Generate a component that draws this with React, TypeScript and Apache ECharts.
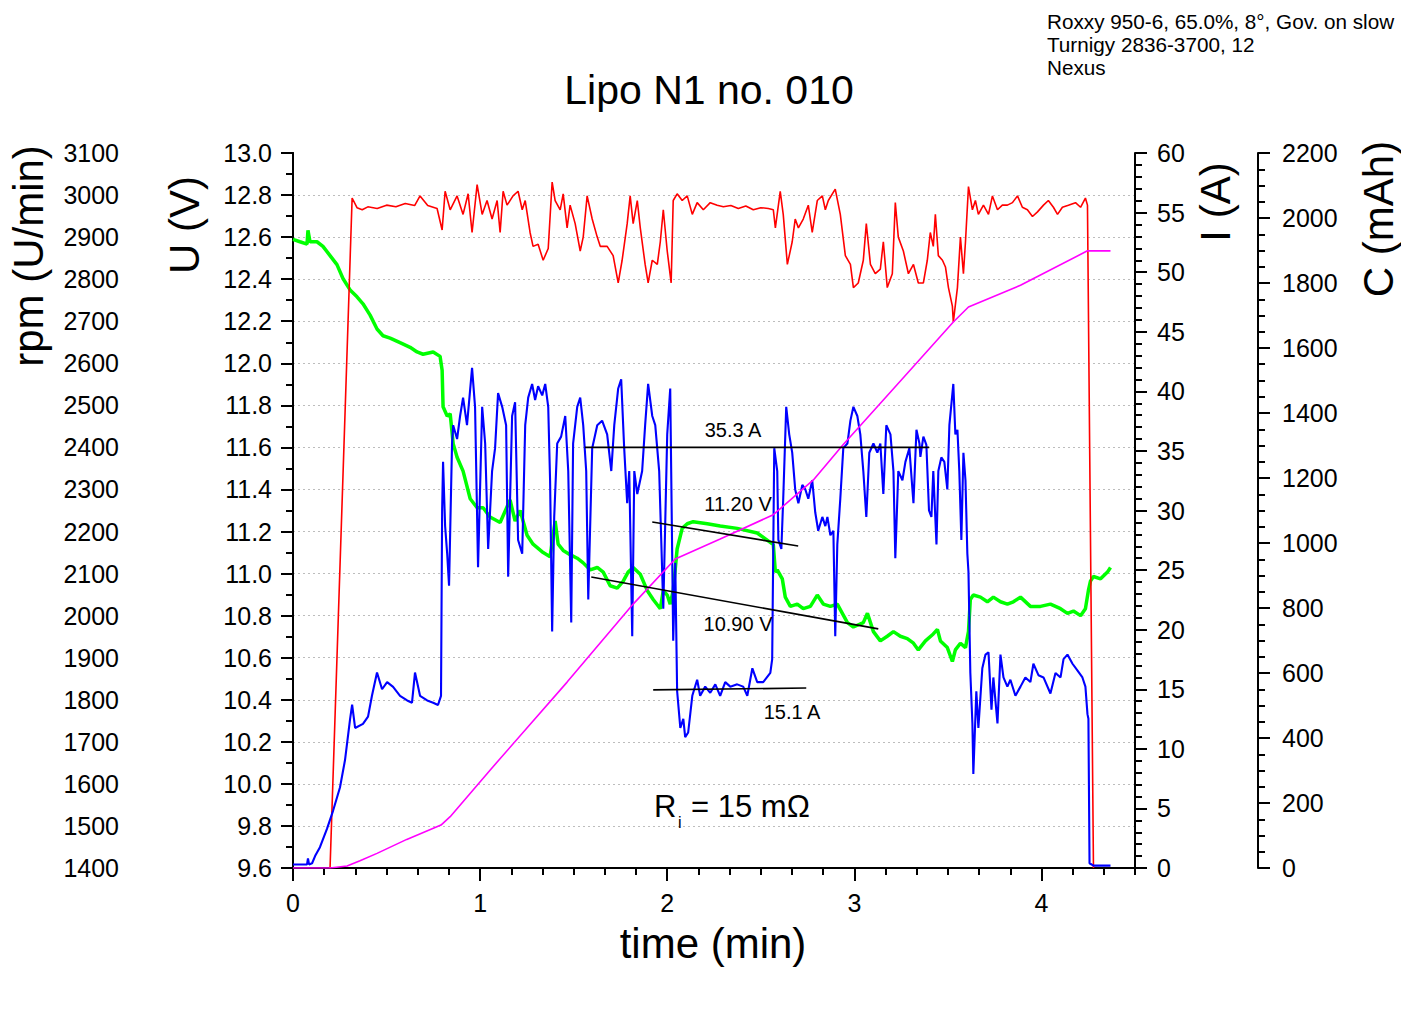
import React, { useEffect, useRef } from "react";
import * as echarts from "echarts";

// ---------- data ----------
const timeMajorTicks = [0, 1, 2, 3, 4];
const timeMinorTicks = Array.from({ length: 28 }, (_, i) => i / 6);

const titleText = "Lipo N1 no. 010";
const infoLines = ["Roxxy 950-6, 65.0%, 8°, Gov. on slow", "Turnigy 2836-3700, 12", "Nexus"];

// rpm (U/min) vs time (min)
const rpmData: [number, number][] = [
  [0.198, 1400], [0.316, 2993], [0.342, 2970], [0.37, 2965], [0.40, 2972], [0.45, 2968], [0.50, 2976],
  [0.55, 2972], [0.60, 2980], [0.65, 2975], [0.679, 2998], [0.72, 2975], [0.77, 2968], [0.797, 2917],
  [0.813, 3009], [0.840, 2965], [0.877, 2998], [0.909, 2954], [0.936, 3003], [0.957, 2911], [0.984, 3025],
  [1.011, 2954], [1.037, 2987], [1.064, 2943], [1.091, 2987], [1.107, 2911], [1.123, 3009], [1.144, 2976],
  [1.176, 2998], [1.203, 3009], [1.225, 2965], [1.241, 2987], [1.267, 2911], [1.283, 2878], [1.310, 2883],
  [1.337, 2845], [1.364, 2873], [1.385, 3031], [1.401, 2987], [1.428, 2965], [1.444, 3003], [1.465, 2922],
  [1.481, 2976], [1.508, 2932], [1.535, 2867], [1.551, 2900], [1.572, 2998], [1.599, 2943], [1.626, 2900],
  [1.642, 2878], [1.679, 2878], [1.711, 2856], [1.738, 2791], [1.759, 2845], [1.786, 2932], [1.802, 2998],
  [1.818, 2932], [1.840, 2987], [1.856, 2922], [1.882, 2835], [1.898, 2791], [1.920, 2845], [1.947, 2835],
  [1.963, 2889], [1.979, 2965], [2.000, 2867], [2.021, 2791], [2.032, 2987], [2.053, 3003], [2.080, 2987],
  [2.107, 2998], [2.134, 2954], [2.160, 2982], [2.193, 2965], [2.230, 2982], [2.267, 2976], [2.30, 2972],
  [2.34, 2975], [2.38, 2968], [2.42, 2974], [2.46, 2965], [2.50, 2970], [2.54, 2968], [2.567, 2965],
  [2.578, 2922], [2.604, 3009], [2.620, 2954], [2.642, 2835], [2.668, 2889], [2.684, 2943], [2.701, 2922],
  [2.727, 2943], [2.754, 2976], [2.775, 2911], [2.802, 2987], [2.829, 2998], [2.845, 2965], [2.861, 2987],
  [2.898, 3014], [2.925, 2954], [2.952, 2856], [2.979, 2835], [2.995, 2780], [3.021, 2791], [3.048, 2845],
  [3.064, 2932], [3.086, 2835], [3.112, 2813], [3.139, 2824], [3.155, 2889], [3.176, 2780], [3.203, 2813],
  [3.219, 2982], [3.235, 2900], [3.262, 2867], [3.289, 2813], [3.316, 2835], [3.342, 2791], [3.369, 2791],
  [3.390, 2845], [3.406, 2911], [3.422, 2878], [3.433, 2954], [3.449, 2856], [3.471, 2845], [3.487, 2829],
  [3.503, 2780], [3.524, 2736], [3.529, 2698], [3.551, 2780], [3.567, 2900], [3.583, 2813], [3.594, 2889],
  [3.610, 3020], [3.631, 2965], [3.647, 2987], [3.663, 2954], [3.690, 2976], [3.717, 2954], [3.738, 2998],
  [3.765, 2965], [3.791, 2976], [3.818, 2976], [3.845, 2982], [3.872, 2998], [3.898, 2971], [3.925, 2965],
  [3.952, 2949], [3.979, 2960], [4.011, 2976], [4.037, 2987], [4.064, 2971], [4.086, 2954], [4.112, 2971],
  [4.144, 2976], [4.182, 2982], [4.209, 2971], [4.235, 2993], [4.246, 2976], [4.278, 1400],
];

// U (V) vs time (min)
const voltData: [number, number][] = [
  [0, 12.589], [0.037, 12.578], [0.075, 12.567], [0.080, 12.632], [0.091, 12.578], [0.128, 12.578],
  [0.160, 12.556], [0.198, 12.512], [0.235, 12.469], [0.267, 12.403], [0.305, 12.349], [0.342, 12.316],
  [0.374, 12.283], [0.412, 12.229], [0.449, 12.163], [0.481, 12.131], [0.519, 12.12], [0.572, 12.098],
  [0.626, 12.076], [0.663, 12.054], [0.695, 12.043], [0.749, 12.054], [0.786, 12.033], [0.797, 11.967],
  [0.802, 11.793], [0.824, 11.749], [0.840, 11.76], [0.856, 11.618], [0.877, 11.553], [0.909, 11.487],
  [0.947, 11.356], [0.984, 11.313], [1.016, 11.313], [1.053, 11.269], [1.107, 11.243], [1.160, 11.35],
  [1.187, 11.25], [1.214, 11.3], [1.251, 11.182], [1.283, 11.14], [1.337, 11.10], [1.374, 11.08],
  [1.401, 11.25], [1.417, 11.14], [1.444, 11.11], [1.481, 11.09], [1.519, 11.073], [1.551, 11.051],
  [1.588, 11.018], [1.626, 11.029], [1.658, 11.007], [1.695, 10.942], [1.733, 10.931], [1.765, 10.964],
  [1.791, 11.007], [1.818, 11.029], [1.856, 10.997], [1.893, 10.92], [1.925, 10.877], [1.963, 10.833],
  [1.979, 10.92], [2.000, 10.898], [2.016, 10.855], [2.032, 10.92], [2.053, 11.117], [2.080, 11.215],
  [2.107, 11.237], [2.139, 11.247], [2.214, 11.237], [2.283, 11.226], [2.374, 11.215], [2.481, 11.193],
  [2.567, 11.138], [2.578, 11.007], [2.588, 11.018], [2.615, 10.975], [2.631, 10.888], [2.658, 10.844],
  [2.695, 10.855], [2.727, 10.833], [2.765, 10.844], [2.802, 10.898], [2.834, 10.855], [2.872, 10.844],
  [2.909, 10.855], [2.936, 10.811], [2.963, 10.767], [2.995, 10.746], [3.048, 10.767], [3.070, 10.811],
  [3.102, 10.724], [3.139, 10.68], [3.176, 10.702], [3.209, 10.724], [3.246, 10.702], [3.283, 10.691],
  [3.316, 10.669], [3.342, 10.637], [3.380, 10.68], [3.422, 10.713], [3.444, 10.735], [3.460, 10.68],
  [3.497, 10.648], [3.524, 10.582], [3.540, 10.637], [3.567, 10.669], [3.594, 10.648], [3.610, 10.724],
  [3.620, 10.877], [3.636, 10.898], [3.674, 10.888], [3.711, 10.866], [3.743, 10.888], [3.781, 10.866],
  [3.818, 10.855], [3.850, 10.866], [3.888, 10.888], [3.941, 10.844], [3.995, 10.844], [4.048, 10.855],
  [4.102, 10.833], [4.139, 10.811], [4.171, 10.822], [4.209, 10.8], [4.235, 10.833], [4.251, 10.92],
  [4.262, 10.964], [4.278, 10.986], [4.316, 10.975], [4.353, 11.007], [4.369, 11.029],
];

// I (A) vs time (min)
const currentData: [number, number][] = [
  [0, 0.3], [0.075, 0.3], [0.080, 0.8], [0.086, 0.3], [0.102, 0.4], [0.118, 1.0], [0.144, 1.75],
  [0.182, 3.3], [0.214, 4.8], [0.251, 6.75], [0.278, 9.06], [0.305, 12.5], [0.316, 13.7], [0.332, 11.75],
  [0.374, 12.1], [0.401, 12.7], [0.422, 14.45], [0.449, 16.4], [0.476, 15.0], [0.503, 15.6], [0.535, 15.2],
  [0.572, 14.45], [0.610, 14.06], [0.636, 13.87], [0.652, 16.4], [0.679, 14.45], [0.717, 14.06],
  [0.749, 13.87], [0.775, 13.68], [0.791, 14.45], [0.797, 30.0], [0.802, 34.08], [0.813, 28.69],
  [0.824, 26.38], [0.834, 23.69], [0.850, 35.62], [0.856, 37.16], [0.877, 36.0], [0.893, 37.93],
  [0.909, 39.47], [0.930, 37.16], [0.957, 41.97], [0.973, 38.7], [0.989, 25.23], [1.011, 38.7],
  [1.027, 35.62], [1.043, 26.77], [1.064, 33.31], [1.080, 35.23], [1.096, 39.85], [1.118, 38.7],
  [1.139, 37.16], [1.150, 24.45], [1.171, 37.93], [1.187, 39.08], [1.203, 27.53], [1.225, 26.38],
  [1.241, 37.16], [1.257, 39.47], [1.278, 40.62], [1.294, 39.27], [1.310, 40.43], [1.332, 39.66],
  [1.348, 40.62], [1.364, 38.7], [1.374, 32.54], [1.385, 19.84], [1.396, 29.46], [1.412, 35.62],
  [1.433, 36.2], [1.455, 37.93], [1.471, 33.31], [1.487, 20.6], [1.497, 35.62], [1.519, 38.7],
  [1.535, 39.47], [1.551, 37.16], [1.567, 33.31], [1.578, 22.53], [1.599, 35.23], [1.626, 37.16],
  [1.652, 37.54], [1.679, 36.39], [1.701, 33.31], [1.717, 37.16], [1.738, 40.24], [1.754, 41.0],
  [1.770, 35.23], [1.786, 30.61], [1.797, 33.31], [1.813, 19.45], [1.824, 33.31], [1.840, 31.38],
  [1.866, 33.31], [1.882, 37.16], [1.898, 40.62], [1.920, 37.93], [1.936, 37.16], [1.957, 33.31],
  [1.979, 21.76], [2.000, 36.39], [2.016, 40.24], [2.032, 19.07], [2.043, 25.61], [2.053, 14.83],
  [2.070, 11.75], [2.086, 12.52], [2.096, 10.98], [2.112, 11.37], [2.134, 14.45], [2.160, 15.8],
  [2.176, 14.45], [2.203, 15.22], [2.230, 14.7], [2.257, 15.41], [2.283, 14.45], [2.310, 15.6],
  [2.337, 15.22], [2.374, 15.41], [2.406, 15.22], [2.428, 14.45], [2.455, 16.76], [2.481, 15.6],
  [2.513, 15.6], [2.551, 16.37], [2.561, 17.53], [2.572, 35.23], [2.588, 33.31], [2.594, 27.53],
  [2.610, 26.77], [2.620, 31.0], [2.636, 38.7], [2.652, 36.39], [2.668, 34.85], [2.684, 31.77],
  [2.701, 30.61], [2.722, 32.15], [2.738, 31.77], [2.754, 30.99], [2.775, 32.54], [2.791, 29.85],
  [2.807, 28.3], [2.829, 29.46], [2.845, 28.69], [2.856, 29.46], [2.872, 27.92], [2.888, 28.3],
  [2.898, 19.45], [2.909, 27.15], [2.925, 30.99], [2.941, 35.23], [2.963, 35.62], [2.979, 37.54],
  [2.995, 38.7], [3.016, 37.93], [3.032, 36.39], [3.048, 33.31], [3.064, 29.46], [3.080, 34.85],
  [3.102, 35.62], [3.123, 34.85], [3.139, 35.62], [3.155, 31.38], [3.171, 37.16], [3.193, 36.39],
  [3.209, 33.31], [3.219, 25.99], [3.235, 33.31], [3.257, 32.54], [3.273, 34.08], [3.294, 35.23],
  [3.316, 30.61], [3.332, 36.77], [3.348, 35.62], [3.353, 34.5], [3.369, 36.2], [3.385, 35.5],
  [3.399, 30.0], [3.412, 29.46], [3.422, 33.31], [3.439, 27.15], [3.449, 33.31], [3.465, 34.46],
  [3.481, 34.08], [3.497, 31.77], [3.508, 37.16], [3.529, 40.62], [3.540, 36.39], [3.551, 36.77],
  [3.561, 33.31], [3.572, 27.53], [3.583, 34.85], [3.594, 32.54], [3.604, 26.38], [3.610, 24.84],
  [3.620, 16.37], [3.631, 12.14], [3.636, 7.9], [3.652, 14.83], [3.663, 11.75], [3.684, 16.76],
  [3.701, 17.91], [3.717, 18.1], [3.733, 13.29], [3.743, 15.99], [3.765, 12.14], [3.781, 17.91],
  [3.797, 15.99], [3.818, 15.22], [3.834, 15.8], [3.861, 14.45], [3.888, 15.22], [3.914, 15.99],
  [3.941, 15.6], [3.957, 17.14], [3.984, 16.18], [4.011, 15.99], [4.048, 14.64], [4.075, 16.37],
  [4.102, 15.99], [4.118, 17.53], [4.139, 17.91], [4.166, 17.14], [4.193, 16.56], [4.219, 15.99],
  [4.235, 15.22], [4.246, 12.91], [4.251, 12.52], [4.257, 0.4], [4.278, 0.2], [4.369, 0.2],
];

// C (mAh) vs time (min)
const capacityData: [number, number][] = [
  [0, 0], [0.198, 0], [0.289, 6], [0.358, 22], [0.449, 45], [0.608, 88], [0.791, 132], [0.840, 158],
  [1.053, 301], [1.465, 572], [1.818, 812], [2.043, 951], [2.283, 1012], [2.567, 1087], [2.781, 1194],
  [2.941, 1303], [3.155, 1440], [3.353, 1567], [3.529, 1680], [3.610, 1726], [3.888, 1793],
  [4.246, 1899], [4.369, 1899],
];

// annotation lines
const line353A: [number, number][] = [[1.56, 35.3], [3.40, 35.3]];
const line151A: [number, number][] = [[1.925, 14.95], [2.743, 15.1]];
const line1120V: [number, number][] = [[1.92, 11.245], [2.70, 11.131]];
const line1090V: [number, number][] = [[1.594, 10.984], [3.128, 10.737]];
const annotationLabels = ["35.3 A", "11.20 V", "10.90 V", "15.1 A"];

const FONT = "'Liberation Sans', Arial, Helvetica, sans-serif";
const TICK_FONT = 25;

function txt(text: string, x: number, y: number, size: number, opts: any = {}) {
  const align = opts.align || "center";
  const va = opts.va || "middle";
  return {
    type: "text",
    x,
    y,
    rotation: opts.rotation || 0,
    silent: true,
    z: 100,
    style: {
      text,
      fontSize: size,
      fontFamily: FONT,
      fill: "#000",
      align,
      verticalAlign: va,
      textAlign: align,
      textVerticalAlign: va,
    },
  };
}

function yAxisBase(extra: any) {
  return {
    type: "value",
    axisLine: { show: true, lineStyle: { color: "#000", width: 2 } },
    axisTick: { show: true, inside: false, length: 12, lineStyle: { color: "#000", width: 2 } },
    splitLine: { show: false },
    ...extra,
    minorTick: { show: true, length: 7, lineStyle: { color: "#000", width: 2 }, ...(extra.minorTick || {}) },
    axisLabel: {
      color: "#000",
      fontSize: TICK_FONT,
      fontFamily: FONT,
      formatter: (v: number) => String(v),
      ...(extra.axisLabel || {}),
    },
  };
}

function annotationSeries(data: [number, number][], yAxisIndex: number) {
  return {
    type: "line",
    data,
    yAxisIndex,
    showSymbol: false,
    symbol: "none",
    silent: true,
    lineStyle: { color: "#000", width: 1.6 },
    z: 10,
  };
}

export default function App() {
  const ref = useRef<HTMLDivElement>(null);

  useEffect(() => {
    document.body.style.margin = "0";
    document.body.style.overflow = "hidden";
    if (!ref.current) return;
    const chart = echarts.init(ref.current, undefined, { renderer: "svg" });

    const option: any = {
      animation: false,
      backgroundColor: "#fff",
      textStyle: { fontFamily: FONT },
      grid: { left: 293, right: 266, top: 153, bottom: 156, containLabel: false },
      xAxis: [
        {
          type: "value",
          min: 0,
          max: 4.5,
          interval: 1,
          position: "bottom",
          axisLine: { show: true, lineStyle: { color: "#000", width: 2 } },
          axisTick: { show: true, length: 13, customValues: timeMajorTicks, lineStyle: { color: "#000", width: 2 } },
          axisLabel: {
            color: "#000",
            fontSize: TICK_FONT,
            fontFamily: FONT,
            margin: 22,
            customValues: timeMajorTicks,
            formatter: (v: number) => String(v),
          },
          splitLine: { show: false },
        },
        {
          type: "value",
          min: 0,
          max: 4.5,
          interval: 1,
          position: "bottom",
          offset: 0,
          axisLine: { show: false },
          axisTick: { show: true, length: 7, customValues: timeMinorTicks, lineStyle: { color: "#000", width: 2 } },
          axisLabel: { show: false },
          splitLine: { show: false },
        },
      ],
      yAxis: [
        yAxisBase({
          position: "left",
          offset: 0,
          min: 9.6,
          max: 13.0,
          interval: 0.2,
          minorTick: { splitNumber: 2 },
          axisLabel: { margin: 21, formatter: (v: number) => v.toFixed(1) },
          splitLine: {
            show: true,
            showMinLine: false,
            showMaxLine: false,
            lineStyle: { color: "#bdbdbd", type: [2, 3], width: 1 },
          },
        }),
        yAxisBase({
          position: "left",
          offset: 150,
          min: 1400,
          max: 3100,
          interval: 100,
          minorTick: { splitNumber: 2 },
          axisLabel: { margin: 24 },
        }),
        yAxisBase({
          position: "right",
          offset: 0,
          min: 0,
          max: 60,
          interval: 5,
          minorTick: { splitNumber: 5 },
          axisLabel: { margin: 22 },
        }),
        yAxisBase({
          position: "right",
          offset: 123,
          min: 0,
          max: 2200,
          interval: 200,
          minorTick: { splitNumber: 4 },
          axisLabel: { margin: 24 },
        }),
      ],
      series: [
        {
          name: "U",
          type: "line",
          data: voltData,
          yAxisIndex: 0,
          showSymbol: false,
          symbol: "none",
          lineStyle: { color: "#00ff00", width: 3.5 },
          z: 2,
        },
        {
          name: "rpm",
          type: "line",
          data: rpmData,
          yAxisIndex: 1,
          showSymbol: false,
          symbol: "none",
          lineStyle: { color: "#ff0000", width: 1.6 },
          z: 3,
        },
        {
          name: "I",
          type: "line",
          data: currentData,
          yAxisIndex: 2,
          showSymbol: false,
          symbol: "none",
          lineStyle: { color: "#0000ff", width: 2.1 },
          z: 4,
        },
        {
          name: "C",
          type: "line",
          data: capacityData,
          yAxisIndex: 3,
          showSymbol: false,
          symbol: "none",
          lineStyle: { color: "#ff00ff", width: 1.6 },
          z: 5,
        },
        annotationSeries(line353A, 2),
        annotationSeries(line151A, 2),
        annotationSeries(line1120V, 0),
        annotationSeries(line1090V, 0),
      ],
      graphic: [
        txt(titleText, 709, 90, 41),
        txt(infoLines[0], 1047, 21, 20.7, { align: "left" }),
        txt(infoLines[1], 1047, 44, 20.7, { align: "left" }),
        txt(infoLines[2], 1047, 67, 20.7, { align: "left" }),
        txt("rpm (U/min)", 28, 256, 42, { rotation: Math.PI / 2 }),
        txt("U (V)", 184, 225, 42, { rotation: Math.PI / 2 }),
        txt("I (A)", 1215, 202, 42, { rotation: Math.PI / 2 }),
        txt("C (mAh)", 1378, 219, 42, { rotation: Math.PI / 2 }),
        txt("time (min)", 713, 943, 42),
        txt(annotationLabels[0], 733, 430, 20),
        txt(annotationLabels[1], 738, 504, 20),
        txt(annotationLabels[2], 738, 624, 20),
        txt(annotationLabels[3], 792, 712, 20),
        txt("R", 654, 806, 31, { align: "left" }),
        txt("i", 678, 822, 16, { align: "left" }),
        txt("= 15 mΩ", 691, 806, 31, { align: "left" }),
      ],
    };

    chart.setOption(option);
    return () => chart.dispose();
  }, []);

  return <div ref={ref} style={{ width: 1401, height: 1024 }} />;
}
